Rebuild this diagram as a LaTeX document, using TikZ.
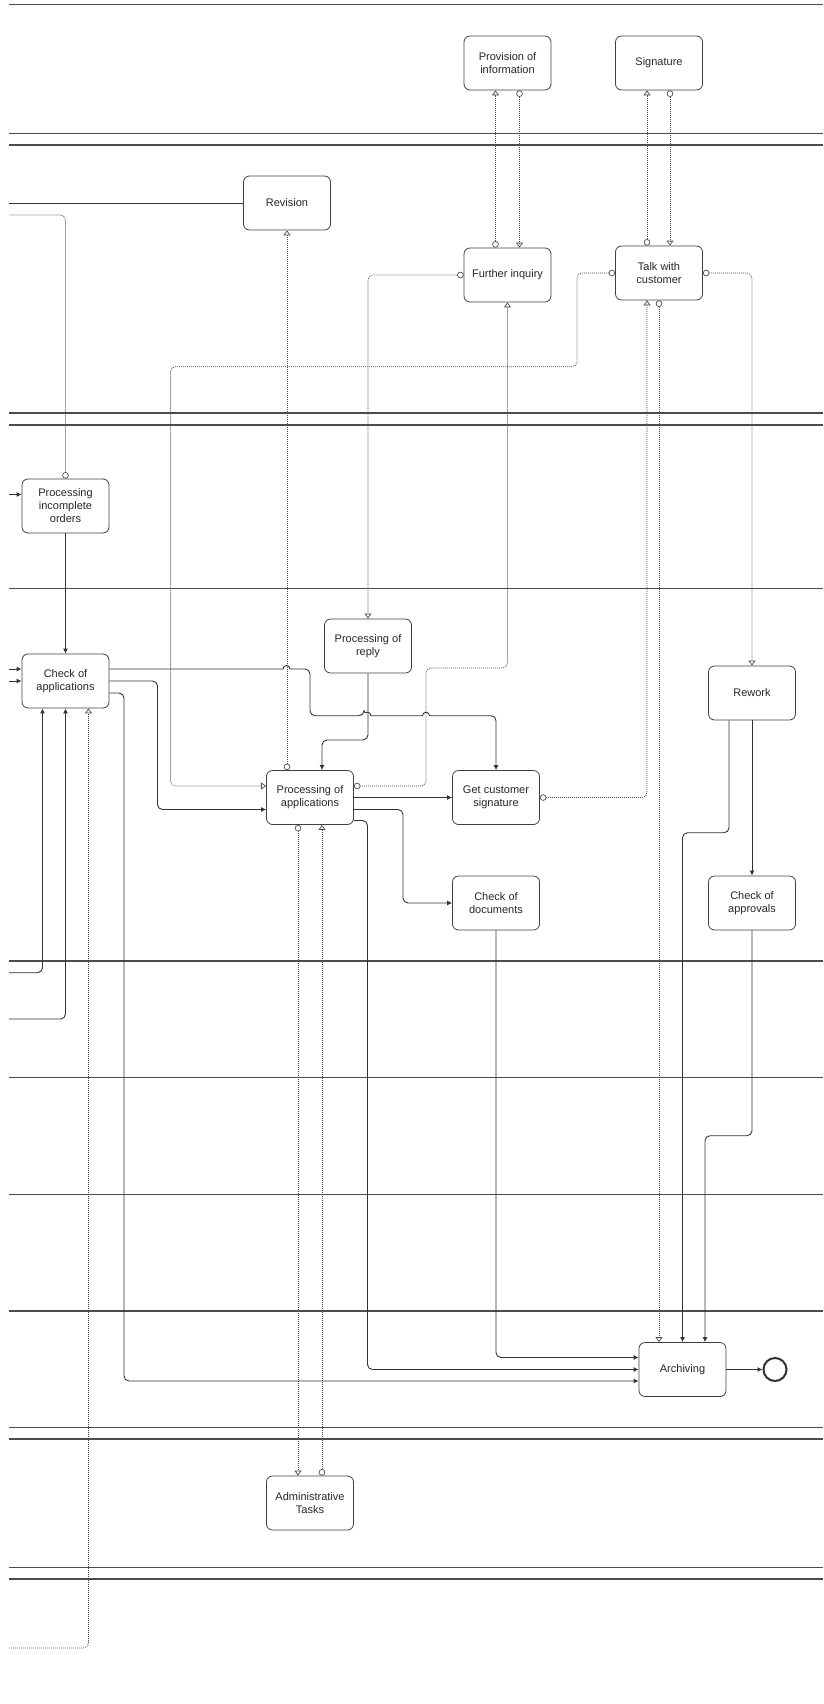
\documentclass[tikz,border=0pt]{standalone}
\usepackage{fontspec}
\setmainfont{Liberation Sans}
\usetikzlibrary{arrows.meta,calc}

\begin{document}
\begin{tikzpicture}[%%
  x=1pt,y=-1pt,%%
  boxStyle/.style={draw=black!75,line width=0.8pt,rounded corners=6pt,minimum width=87pt,minimum height=54pt,align=center,text=black!85,font=\fontsize{11}{13}\selectfont},%%
  endStyle/.style={circle,draw=black!80,line width=2pt,minimum size=23pt,inner sep=0pt},%%
  flowStyle/.style={draw=black!80,line width=0.9pt,rounded corners=5pt,arrows={-Latex[length=5pt,width=5pt]}},%%
  assocLine/.style={draw=black!70,line width=0.7pt,dash pattern=on 1pt off 1pt,rounded corners=5pt},%%
  assocStyle/.style={assocLine,arrows={Circle[open,length=6.5pt,width=6.5pt]-Triangle[open,length=5pt,width=7pt]}},%%
  laneStyle/.style={-,draw=black!70,line width=1.1pt}%%
]
%%
\pgfmathsetmacro{\xleft}{9}
\pgfmathsetmacro{\xright}{823}
\useasboundingbox (0,0) rectangle (823,1704);
%%
%% Lane borders.
\foreach \ly in {4.7,133.3,145,413,425,588.3,961,1077.7,1194.3,1311,1427.3,1439,1567.3,1579}
  \draw[laneStyle] (\xleft,\ly) -- (\xright,\ly);
%%
%% Activities.
\node[boxStyle] (provInfo) at (507.5,63) {Provision of\\information};
\node[boxStyle] (signature) at (659,63) {Signature};
\node[boxStyle] (revision) at (287,203) {Revision};
\node[boxStyle] (furtherInquiry) at (507.5,275) {Further inquiry};
\node[boxStyle] (talkCustomer) at (659,273) {Talk with\\customer};
\node[boxStyle] (procIncomplete) at (65.5,506) {Processing\\incomplete\\orders};
\node[boxStyle] (checkAppl) at (65.5,681) {Check of\\applications};
\node[boxStyle] (procReply) at (368,646) {Processing of\\reply};
\node[boxStyle] (procAppl) at (310,797.5) {Processing of\\applications};
\node[boxStyle] (getSignature) at (496,797.5) {Get customer\\signature};
\node[boxStyle] (rework) at (752,693) {Rework};
\node[boxStyle] (checkDocs) at (496,903) {Check of\\documents};
\node[boxStyle] (checkApprovals) at (752,903) {Check of\\approvals};
\node[boxStyle] (archiving) at (682.5,1369.5) {Archiving};
\node[boxStyle] (adminTasks) at (310,1503) {Administrative\\Tasks};
\node[endStyle] (endEvent) at (775,1369.5) {};
%%
%% Incoming lines from the left border.
\coordinate (inRevision) at (\xleft,203);
\coordinate (inIncomplete) at (\xleft,494.5);
\coordinate (inCheckA) at (\xleft,669);
\coordinate (inCheckB) at (\xleft,681);
\coordinate (inCheckC) at (\xleft,972.7);
\coordinate (inCheckD) at (\xleft,1019);
\coordinate (outIncomplete) at (\xleft,215);
\coordinate (outCheck) at (\xleft,1648);
%%
%% Sequence flows.
\draw[draw=black!80,line width=0.9pt] (inRevision) -- (revision.west);
\draw[flowStyle] (inIncomplete) -- ($(procIncomplete.west)+(0,-11.5)$);
\draw[flowStyle] (inCheckA) -- ($(checkAppl.west)+(0,-12)$);
\draw[flowStyle] (inCheckB) -- (checkAppl.west);
\draw[flowStyle] (inCheckC) -| ($(checkAppl.south)+(-23,0)$);
\draw[flowStyle] (inCheckD) -| (checkAppl.south);
\draw[flowStyle] (procIncomplete.south) -- (checkAppl.north);
\draw[flowStyle] ($(checkAppl.east)+(0,-12)$) [sharp corners] -- (283,669)
  arc[start angle=180,end angle=360,radius=3.5] [rounded corners=5pt] -- (310,669) -- (310,715.7)
  -- (364,715.7) [sharp corners] arc[start angle=180,end angle=360,radius=3.5]
  -- (422.5,715.7) arc[start angle=180,end angle=360,radius=3.5] [rounded corners=5pt]
  -- (496,715.7) -- (getSignature.north);
\draw[flowStyle] (checkAppl.east) -| (157.5,809.5) -- ($(procAppl.west)+(0,12)$);
\draw[flowStyle] ($(checkAppl.east)+(0,12)$) -| (124,1381) -- ($(archiving.west)+(0,11.5)$);
\draw[flowStyle] (procReply.south) -- (368,740) -| ($(procAppl.north)+(12,0)$);
\draw[flowStyle] (procAppl.east) -- (getSignature.west);
\draw[flowStyle] ($(procAppl.east)+(0,12)$) -| (403,903) -- (checkDocs.west);
\draw[flowStyle] ($(procAppl.east)+(0,23)$) -| (367.5,1369.5) -- (archiving.west);
\draw[flowStyle] (checkDocs.south) |- ($(archiving.west)+(0,-12)$);
\draw[flowStyle] ($(rework.south)+(-23,0)$) -- (729,832.7) -| (archiving.north);
\draw[flowStyle] (rework.south) -- (checkApprovals.north);
\draw[flowStyle] (checkApprovals.south) -- (752,1135.7) -| ($(archiving.north)+(22.5,0)$);
\draw[flowStyle] (archiving.east) -- (endEvent.west);
%%
%% Associations.
\draw[assocStyle] ($(furtherInquiry.north)+(-12,0)$) -- ($(provInfo.south)+(-12,0)$);
\draw[assocStyle] ($(provInfo.south)+(12,0)$) -- ($(furtherInquiry.north)+(12,0)$);
\draw[assocStyle] ($(talkCustomer.north)+(-12,0)$) -- ($(signature.south)+(-12,0)$);
\draw[assocStyle] ($(signature.south)+(11,0)$) -- ($(talkCustomer.north)+(11,0)$);
\draw[assocStyle] ($(procAppl.north)+(-23,0)$) -- (revision.south);
\draw[assocLine,arrows={Circle[open,length=6.5pt,width=6.5pt]-}] (procIncomplete.north) |- (outIncomplete);
\draw[assocStyle] (furtherInquiry.west) -| (procReply.north);
\draw[assocStyle] (talkCustomer.west) -| (577,366.7) -| (170.5,786) -- ($(procAppl.west)+(0,-11.5)$);
\draw[assocStyle] ($(procAppl.east)+(0,-11.5)$) -| (426,668) -| (furtherInquiry.south);
\draw[assocStyle] (getSignature.east) -| ($(talkCustomer.south)+(-12,0)$);
\draw[assocStyle] (talkCustomer.south) -- (talkCustomer.south |- archiving.north);
\draw[assocStyle] (talkCustomer.east) -| (rework.north);
\draw[assocStyle] ($(procAppl.south)+(-12,0)$) -- ($(adminTasks.north)+(-12,0)$);
\draw[assocStyle] ($(adminTasks.north)+(12,0)$) -- ($(procAppl.south)+(12,0)$);
\draw[assocLine,arrows={-Triangle[open,length=5pt,width=7pt]}] (outCheck) -| ($(checkAppl.south)+(23,0)$);
\end{tikzpicture}
\end{document}
